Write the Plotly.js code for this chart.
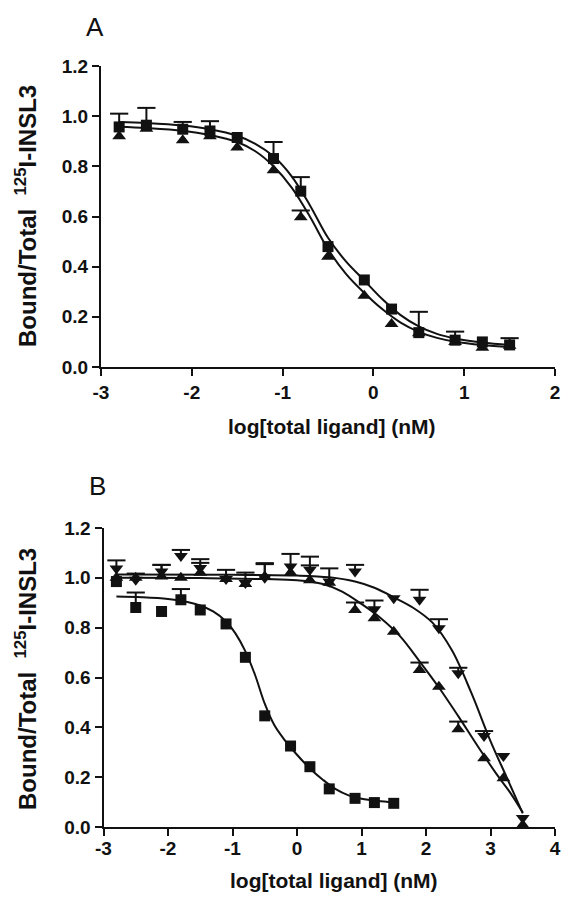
<!DOCTYPE html>
<html>
<head>
<meta charset="utf-8">
<script src="https://cdn.plot.ly/plotly-3.0.1.min.js"></script>
<style>html,body{margin:0;padding:0;background:#fff;}#chart{width:569px;height:901px;}</style>
</head>
<body>
<div id="chart"></div>
<script>
// ---------- Panel A data ----------
const xA = [-2.8,-2.5,-2.1,-1.8,-1.5,-1.1,-0.8,-0.5,-0.1,0.2,0.5,0.9,1.2,1.5];
const aSquare = [0.957,0.964,0.948,0.941,0.915,0.831,0.701,0.480,0.347,0.231,0.137,0.107,0.100,0.088];
const aSquareErr = [0.053,0.069,0.029,0.039,0,0.066,0.056,0,0,0,0.083,0.034,0,0.027];
const aTriangle = [0.920,0.950,0.904,0.920,0.875,0.784,0.597,0.440,0.284,0.171,0.135,0.100,0.077,0.085];
const aTriangleErr = [0,0,0,0,0,0,0.027,0,0,0,0,0,0,0];
const aFitX = [-2.8,-2.5,-2.1,-1.8,-1.5,-1.3,-1.1,-0.9,-0.7,-0.5,-0.3,-0.1,0.1,0.3,0.5,0.7,0.9,1.2,1.5];
const aSquareFit = [0.977,0.973,0.963,0.948,0.922,0.890,0.840,0.760,0.645,0.515,0.420,0.345,0.270,0.207,0.162,0.132,0.114,0.098,0.088];
const aTriangleFit = [0.958,0.953,0.942,0.925,0.897,0.860,0.800,0.715,0.600,0.470,0.370,0.295,0.230,0.177,0.140,0.116,0.101,0.088,0.080];

// ---------- Panel B data ----------
const xB = [-2.8,-2.5,-2.1,-1.8,-1.5,-1.1,-0.8,-0.5,-0.1,0.2,0.5,0.9,1.2,1.5,1.9,2.2,2.5,2.9,3.2,3.5];
const bSquare = [0.985,0.881,0.865,0.912,0.871,0.815,0.681,0.446,0.325,0.242,0.153,0.115,0.098,0.095];
const bSquareErr = [0,0.060,0,0.043,0,0,0,0,0,0,0,0,0,0];
const bUp = [1.000,1.000,1.005,1.000,1.020,0.995,0.975,1.005,1.020,0.990,0.980,0.871,0.838,0.784,0.630,0.563,0.392,0.276,0.196,0.008];
const bUpErr = [0,0,0.047,0,0.040,0,0,0.050,0,0.060,0,0.030,0,0,0.030,0,0.031,0,0,0];
const bDown = [1.037,0.992,1.025,1.088,1.039,0.995,0.979,1.000,1.045,1.032,0.985,1.025,0.874,0.918,0.912,0.798,0.617,0.365,0.285,0.036];
const bDownErr = [0.033,0.025,0.027,0.024,0.036,0.037,0.042,0.059,0.051,0.053,0.053,0.027,0.035,0,0.040,0.036,0.022,0.020,0,0];
const bSquareFitX = [-2.8,-2.4,-2.0,-1.7,-1.5,-1.3,-1.1,-0.95,-0.8,-0.65,-0.5,-0.35,-0.2,0.0,0.2,0.4,0.6,0.8,1.0,1.25,1.5];
const bSquareFit = [0.925,0.922,0.915,0.903,0.889,0.865,0.825,0.775,0.705,0.610,0.495,0.408,0.352,0.290,0.235,0.190,0.152,0.127,0.113,0.104,0.099];
const bUpFitX = [-2.8,-1.5,-0.5,0.0,0.4,0.7,1.0,1.3,1.6,1.9,2.2,2.5,2.8,3.1,3.3,3.5];
const bUpFit = [1.000,0.999,0.995,0.990,0.975,0.945,0.895,0.838,0.765,0.665,0.560,0.445,0.325,0.210,0.140,0.058];
const bDownFitX = [-2.8,-1.0,0.0,0.5,0.9,1.2,1.5,1.8,2.1,2.4,2.7,3.0,3.25,3.5];
const bDownFit = [1.013,1.012,1.009,1.002,0.985,0.960,0.922,0.880,0.820,0.710,0.540,0.345,0.200,0.055];

// ---------- Axis labels ----------
const yTickVals = [0,0.2,0.4,0.6,0.8,1.0,1.2];
const yTickText = ['0.0','0.2','0.4','0.6','0.8','1.0','1.2'];
const xTickValsA = [-3,-2,-1,0,1,2];
const xTickTextA = ['-3','-2','-1','0','1','2'];
const xTickValsB = [-3,-2,-1,0,1,2,3,4];
const xTickTextB = ['-3','-2','-1','0','1','2','3','4'];
const xTitle = 'log[total ligand] (nM)';
const yTitle = 'Bound/Total&nbsp;&nbsp;<sup>125</sup>I-INSL3';

const INK = '#111';

function points(x, y, err, symbol, size, xa, ya) {
  const tr = [{
    x: x, y: y, xaxis: xa, yaxis: ya, type: 'scatter', mode: 'markers', cliponaxis: false,
    marker: {symbol: symbol, size: size, color: INK},
    error_y: {type: 'data', symmetric: false, array: err, arrayminus: err.map(() => 0),
              width: 0, thickness: 2, color: INK},
    showlegend: false, hoverinfo: 'skip'
  }];
  const cx = [], cy = [];
  for (let i = 0; i < y.length; i++) {
    if (err[i] > 0) { cx.push(x[i]); cy.push(y[i] + err[i]); }
  }
  tr.push({
    x: cx, y: cy, xaxis: xa, yaxis: ya, type: 'scatter', mode: 'markers', cliponaxis: false,
    marker: {symbol: 'line-ew', size: 13, color: INK, line: {width: 2, color: INK}},
    showlegend: false, hoverinfo: 'skip'
  });
  return tr;
}
function fit(x, y, xa, ya) {
  return {x: x, y: y, xaxis: xa, yaxis: ya, type: 'scatter', mode: 'lines', cliponaxis: false,
          line: {color: INK, width: 2, shape: 'spline', smoothing: 1},
          showlegend: false, hoverinfo: 'skip'};
}

const traces = [
  fit(aFitX, aSquareFit, 'x', 'y'),
  fit(aFitX, aTriangleFit, 'x', 'y'),
  ...points(xA, aTriangle, aTriangleErr, 'triangle-up', 12, 'x', 'y'),
  ...points(xA, aSquare, aSquareErr, 'square', 11, 'x', 'y'),
  fit(bSquareFitX, bSquareFit, 'x2', 'y2'),
  fit(bUpFitX, bUpFit, 'x2', 'y2'),
  fit(bDownFitX, bDownFit, 'x2', 'y2'),
  ...points(xA, bSquare, bSquareErr, 'square', 11, 'x2', 'y2'),
  ...points(xB, bUp, bUpErr, 'triangle-up', 12, 'x2', 'y2'),
  ...points(xB, bDown, bDownErr, 'triangle-down', 12, 'x2', 'y2')
];

const W = 569, H = 901;
const tickFont = {family: 'Liberation Sans, Arial, sans-serif', size: 19, color: INK, weight: 'bold'};
function axis(extra) {
  return Object.assign({
    showgrid: false, zeroline: false, showline: true, linecolor: INK, linewidth: 2,
    ticks: 'outside', ticklen: 7, tickwidth: 2, tickcolor: INK, tickfont: tickFont,
    fixedrange: true
  }, extra);
}

const titleFont = {family: 'Liberation Sans, Arial, sans-serif', size: 21, color: INK, weight: 'bold'};
const yTitleFont = {family: 'Liberation Sans, Arial, sans-serif', size: 24, color: INK, weight: 'bold'};
const letterFont = {family: 'Liberation Sans, Arial, sans-serif', size: 26, color: INK};

const layout = {
  width: W, height: H, margin: {l: 0, r: 0, t: 0, b: 0},
  paper_bgcolor: '#fff', plot_bgcolor: '#fff', showlegend: false,
  xaxis: axis({domain: [101/W, 555/W], range: [-3, 2], anchor: 'y', tickvals: xTickValsA, ticktext: xTickTextA}),
  yaxis: axis({domain: [1 - 367/H, 1 - 66/H], range: [0, 1.2], anchor: 'x', tickvals: yTickVals, ticktext: yTickText}),
  xaxis2: axis({domain: [103.5/W, 555/W], range: [-3, 4], anchor: 'y2', tickvals: xTickValsB, ticktext: xTickTextB, ticklabelstandoff: -4}),
  yaxis2: axis({domain: [1 - 827/H, 1 - 528/H], range: [0, 1.2], anchor: 'x2', tickvals: yTickVals, ticktext: yTickText}),
  annotations: [
    {text: 'A', xref: 'paper', yref: 'paper', x: 95/W, y: 1 - 27/H, showarrow: false, font: letterFont, xanchor: 'center', yanchor: 'middle'},
    {text: 'B', xref: 'paper', yref: 'paper', x: 97/W, y: 1 - 486/H, showarrow: false, font: letterFont, xanchor: 'center', yanchor: 'middle'},
    {text: xTitle, xref: 'paper', yref: 'paper', x: 332/W, y: 1 - 427/H, showarrow: false, font: titleFont, xanchor: 'center', yanchor: 'middle'},
    {text: xTitle, xref: 'paper', yref: 'paper', x: 334/W, y: 1 - 880/H, showarrow: false, font: titleFont, xanchor: 'center', yanchor: 'middle'},
    {text: yTitle, xref: 'paper', yref: 'paper', x: 26/W, y: 1 - 216/H, showarrow: false, font: yTitleFont, textangle: -90, xanchor: 'center', yanchor: 'middle'},
    {text: yTitle, xref: 'paper', yref: 'paper', x: 26/W, y: 1 - 679/H, showarrow: false, font: yTitleFont, textangle: -90, xanchor: 'center', yanchor: 'middle'}
  ]
};

Plotly.newPlot('chart', traces, layout, {staticPlot: true, displayModeBar: false});
</script>
</body>
</html>
